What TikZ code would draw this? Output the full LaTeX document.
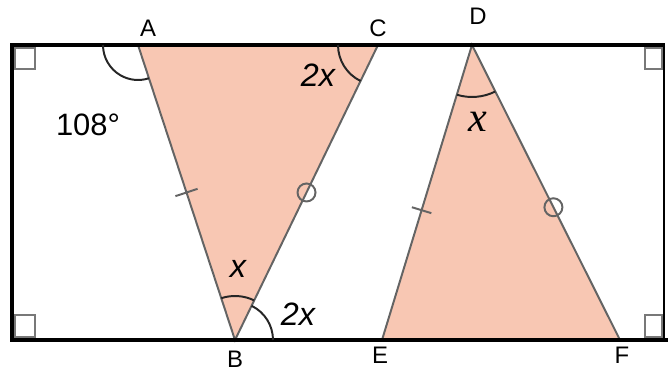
\documentclass[tikz,border=0pt]{standalone}
\usepackage{fontspec}
\setmainfont{Liberation Sans}
\newfontfamily\seriffont{Liberation Serif}
\usetikzlibrary{calc}
\definecolor{trifill}{RGB}{248,199,179}
\definecolor{edgegray}{RGB}{100,100,100}
\definecolor{markgray}{RGB}{120,120,120}

\begin{document}
\begin{tikzpicture}[x=0.025cm,y=0.025cm]
\tikzstyle{ptlabel}=[font=\fontsize{17}{17}\selectfont,inner sep=0pt]
\tikzstyle{anglabel}=[font=\fontsize{23}{23}\selectfont\itshape,inner sep=0pt]
\tikzstyle{edge}=[draw=edgegray,line width=1.4pt]
\tikzstyle{arcline}=[draw=black!85,line width=1.4pt]
\tikzstyle{rmark}=[draw=markgray,line width=0.9pt]
\useasboundingbox (0,0) rectangle (668,372);

% points
\coordinate (A) at (138,327);
\coordinate (C) at (378,327);
\coordinate (B) at (235,32);
\coordinate (D) at (472,327);
\coordinate (E) at (382,32);
\coordinate (F) at (620,32);

% shaded triangles
\fill[trifill] (A)--(B)--(C)--cycle;
\fill[trifill] (D)--(E)--(F)--cycle;
\draw[edge] (A)--(B)--(C);
\draw[edge] (E)--(D)--(F);

% equal-side marks
\draw[edge] ($(A)!0.5!(B)!0.075!90:(B)$)--($(A)!0.5!(B)!0.075!-90:(B)$);
\draw[edge] ($(D)!0.56!(E)!0.075!90:(E)$)--($(D)!0.56!(E)!0.075!-90:(E)$);
\draw[edge] ($(B)!0.5!(C)$) circle (9);
\draw[edge] ($(D)!0.55!(F)$) circle (9);

% frame
\draw[line width=3pt] (665,327)--(12,327)--(12,32)--(668,32);
\draw[line width=1.6pt] (664,327)--(664,32);

% right angles
\draw[rmark] (15,303) rectangle (35,324);
\draw[rmark] (15,35) rectangle (35,57);
\draw[rmark] (645,303) rectangle (662,324);
\draw[rmark] (645,35) rectangle (662,57);

% angle arcs
\draw[arcline] ($(A)+(180:35)$) arc (180:288.2:35);
\draw[arcline] ($(C)+(180:40)$) arc (180:244.1:40);
\draw[arcline] ($(D)+(253.0:52)$) arc (253.0:296.6:52);
\draw[arcline] ($(B)+(64.1:44)$) arc (64.1:108.2:44);
\draw[arcline] ($(B)+(0:38)$) arc (0:64.1:38);

% labels
\node[ptlabel] (lA) at (148,344) {A};
\node[ptlabel] (lC) at (378,344) {C};
\node[ptlabel] (lD) at (478,356) {D};
\node[ptlabel] (lB) at (235,13) {B};
\node[ptlabel] (lE) at (380,17) {E};
\node[ptlabel] (lF) at (622,17) {F};
\node[font=\fontsize{22}{22}\selectfont,inner sep=0pt] (a108) at (88,247) {108°};
\node[anglabel] (aC) at (318,297) {2x};
\node[font=\fontsize{30}{30}\selectfont\seriffont\itshape,inner sep=0pt] (aD) at (478,250) {x};
\node[anglabel] (aB) at (238,103) {x};
\node[anglabel] (aB2) at (298,58) {2x};
\end{tikzpicture}
\end{document}
